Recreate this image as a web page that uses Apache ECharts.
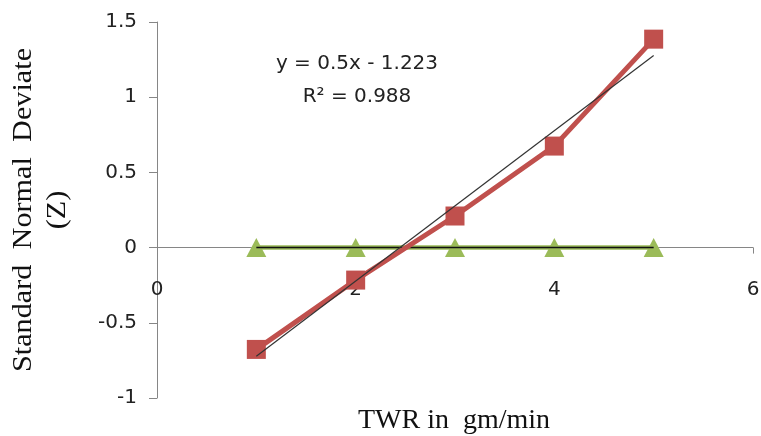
<!DOCTYPE html>
<html>
<head>
<meta charset="utf-8">
<script src="https://cdn.jsdelivr.net/npm/echarts@6/dist/echarts.min.js"></script>
<style>
html,body{margin:0;padding:0;background:#fff;}
#c{width:761px;height:436px;}
</style>
</head>
<body>
<div id="c"></div>
<script>
var xValues = [1, 2, 3, 4, 5];
var zValues = [-0.677, -0.216, 0.21, 0.675, 1.386];
var baseValues = [0, 0, 0, 0, 0];
var trendX = [1, 5];
var trendY = [-0.723, 1.277];
var baseTrendY = [0, 0];
var yTicks = [-1, -0.5, 0, 0.5, 1, 1.5];
var xTicks = [0, 2, 4, 6];
var equationText = 'y = 0.5x - 1.223';
var r2Text = 'R\u00B2 = 0.988';
var yTitle1 = 'Standard  Normal  Deviate';
var yTitle2 = '(Z)';
var xTitle = 'TWR in  gm/min';

function pairs(xs, ys) { return xs.map(function (x, i) { return [x, ys[i]]; }); }

var gridTop = 22, gridBottom = 38, H = 436;
var yMin = yTicks[0], yMax = yTicks[yTicks.length - 1];
var plotH = H - gridTop - gridBottom;
// shift the x axis (line, ticks, labels) up to where y = 0 sits
var zeroOffset = -plotH * (0 - yMin) / (yMax - yMin);

var chart = echarts.init(document.getElementById('c'));
var labelFont = '"DejaVu Sans", "Open Sans", sans-serif';
var serif = '"Liberation Serif", "DejaVu Serif", serif';
chart.setOption({
  animation: false,
  grid: { left: 157, right: 8, top: gridTop, bottom: gridBottom, containLabel: false, outerBoundsMode: 'none' },
  xAxis: {
    type: 'value', min: xTicks[0], max: xTicks[xTicks.length - 1], interval: 2,
    position: 'bottom', offset: zeroOffset,
    axisLine: { onZero: false, lineStyle: { color: '#868686', width: 1 } },
    axisTick: { show: true, inside: false, length: 6, lineStyle: { color: '#868686' } },
    axisLabel: { margin: 32, fontSize: 20, color: '#222', fontFamily: labelFont },
    splitLine: { show: false }
  },
  yAxis: {
    type: 'value', min: yMin, max: yMax, interval: 0.5,
    axisLine: { show: true, onZero: false, lineStyle: { color: '#868686', width: 1 } },
    axisTick: { show: true, inside: false, length: 8, lineStyle: { color: '#868686' } },
    axisLabel: { margin: 20, fontSize: 20, color: '#222', fontFamily: labelFont },
    splitLine: { show: false }
  },
  series: [
    {
      type: 'line', data: pairs(xValues, baseValues),
      symbol: 'triangle', symbolSize: [20, 19],
      itemStyle: { color: '#9BBB59' },
      lineStyle: { color: '#9BBB59', width: 4.5 }, z: 2
    },
    {
      type: 'line', data: pairs(trendX, baseTrendY), symbol: 'none',
      lineStyle: { color: '#111', width: 1.5 }, z: 3
    },
    {
      type: 'line', data: pairs(xValues, zValues),
      symbol: 'rect', symbolSize: 19,
      itemStyle: { color: '#C0504D' },
      lineStyle: { color: '#C0504D', width: 5 }, z: 4
    },
    {
      type: 'line', data: pairs(trendX, trendY), symbol: 'none',
      lineStyle: { color: '#333', width: 1.2 }, z: 5
    }
  ],
  graphic: [
    { type: 'text', x: 357, y: 64, style: { text: equationText, fontSize: 20, fontFamily: labelFont, fill: '#222', textAlign: 'center', textVerticalAlign: 'middle' } },
    { type: 'text', x: 357, y: 97, style: { text: r2Text, fontSize: 20, fontFamily: labelFont, fill: '#222', textAlign: 'center', textVerticalAlign: 'middle' } },
    { type: 'text', x: 24, y: 210, rotation: Math.PI / 2, scaleX: 1.08, style: { text: yTitle1, fontSize: 28, fontFamily: serif, fill: '#111', textAlign: 'center', textVerticalAlign: 'middle' } },
    { type: 'text', x: 58, y: 210, rotation: Math.PI / 2, scaleX: 1.08, style: { text: yTitle2, fontSize: 28, fontFamily: serif, fill: '#111', textAlign: 'center', textVerticalAlign: 'middle' } },
    { type: 'text', x: 454, y: 421, style: { text: xTitle, fontSize: 28, fontFamily: serif, fill: '#111', textAlign: 'center', textVerticalAlign: 'middle' } }
  ]
});
</script>
</body>
</html>
